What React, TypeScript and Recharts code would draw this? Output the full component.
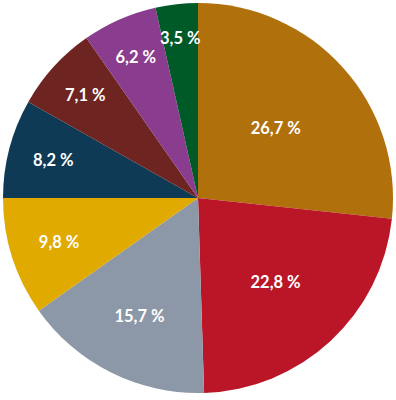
import { PieChart, Pie, Cell } from "recharts";

const LABELS = ["A", "B", "C", "D", "E", "F", "G", "H"];
const VALUES = [26.7, 22.8, 15.7, 9.8, 8.2, 7.1, 6.2, 3.5];
const COLORS = ["#b0700b", "#ba1628", "#8c98a8", "#e0aa00", "#0f3a56", "#6e2420", "#8a3c8e", "#005a28"];

const RADIAN = Math.PI / 180;

const data = LABELS.map((name, i) => ({ name, value: VALUES[i] }));

// labels sit further out in the thinner slices
const renderLabel = (props: any) => {
  const { cx, cy, midAngle, outerRadius, percent, value } = props;
  const r = outerRadius * (0.87 - 1.25 * percent);
  const x = cx + r * Math.cos(-midAngle * RADIAN);
  const y = cy + r * Math.sin(-midAngle * RADIAN);
  return (
    <text
      x={x}
      y={y + 6}
      fill="#fff"
      textAnchor="middle"
      fontFamily="Lato, sans-serif"
      fontWeight={700}
      fontSize={16.5}
    >
      {value.toFixed(1).replace(".", ",") + " %"}
    </text>
  );
};

export default function App() {
  return (
    <div style={{ position: "absolute", left: 0, top: 0, background: "#fff" }}>
      <PieChart width={396} height={400} margin={{ top: 0, right: 0, bottom: 0, left: 0 }}>
        <Pie
          data={data}
          dataKey="value"
          cx={198}
          cy={198}
          outerRadius={195}
          startAngle={90}
          endAngle={-270}
          stroke="none"
          label={renderLabel}
          labelLine={false}
          isAnimationActive={false}
        >
          {data.map((entry, index) => (
            <Cell key={`cell-${index}`} fill={COLORS[index]} />
          ))}
        </Pie>
      </PieChart>
    </div>
  );
}
